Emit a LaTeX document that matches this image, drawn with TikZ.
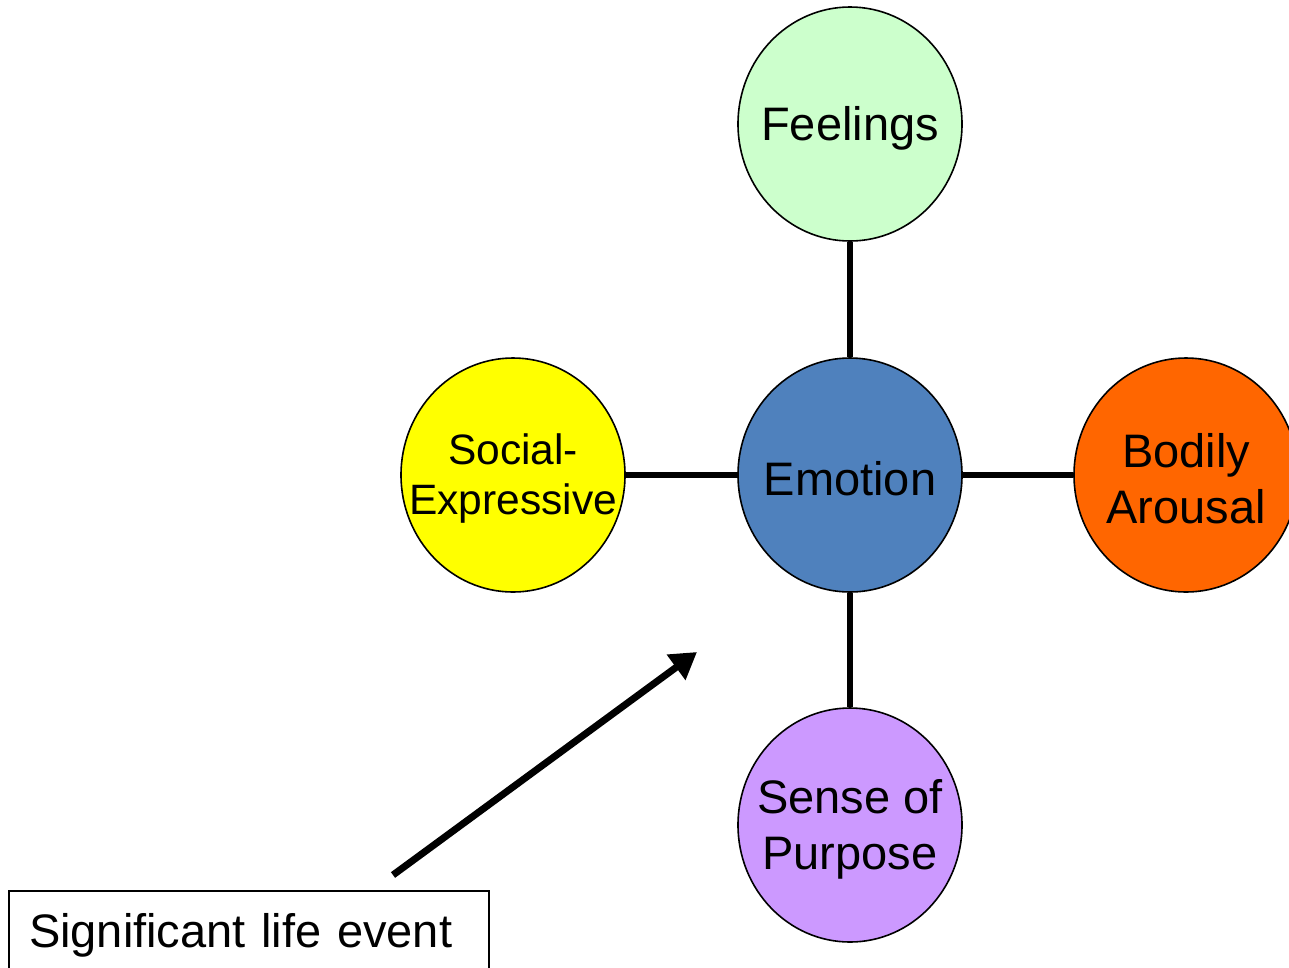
\documentclass[tikz,border=0pt]{standalone}
\usepackage{fontspec}
\setmainfont{Liberation Sans}
\usetikzlibrary{shapes.geometric,arrows.meta}
\begin{document}
\begin{tikzpicture}[x=1pt,y=-1pt,
  bubble/.style={ellipse,draw=black,line width=1.6pt,minimum width=224pt,minimum height=234pt,inner sep=0pt},
  bubbletext/.style={align=center,yshift=-4pt,font=\fontsize{47}{56}\selectfont},
  link/.style={line width=5.5pt,black},
  eventbox/.style={rectangle,draw=black,line width=2pt,minimum width=480pt,minimum height=88pt,inner xsep=20pt,text width=440pt,align=left,font=\fontsize{47}{56}\selectfont},
  bigarrow/.style={line width=7pt,-{Triangle[length=26pt,width=30pt]}}]
\useasboundingbox (0,0) rectangle (1289,967);
\node[bubble,fill={rgb,255:red,204;green,255;blue,204},label={[bubbletext]center:Feelings}] (feel) at (850,124) {};
\node[bubble,fill={rgb,255:red,79;green,129;blue,189},label={[bubbletext]center:Emotion}] (emo) at (850,475) {};
\node[bubble,fill={rgb,255:red,255;green,255;blue,0},label={[bubbletext,font=\fontsize{42.5}{50}\selectfont]center:Social-\\Expressive}] (soc) at (513,475) {};
\node[bubble,fill={rgb,255:red,255;green,102;blue,0},label={[bubbletext]center:Bodily\\Arousal}] (body) at (1186,475) {};
\node[bubble,fill={rgb,255:red,204;green,153;blue,255},label={[bubbletext]center:Sense of\\Purpose}] (purp) at (850,825) {};
\draw[link] (feel.south) -- (emo.north);
\draw[link] (soc.east) -- (emo.west);
\draw[link] (emo.east) -- (body.west);
\draw[link] (emo.south) -- (purp.north);
\node[eventbox] (event) at (249,935) {Significant life event};
\coordinate (tail) at (393,875);
\coordinate (tip) at (697,652);
\draw[bigarrow] (tail) -- (tip);
\end{tikzpicture}
\end{document}
